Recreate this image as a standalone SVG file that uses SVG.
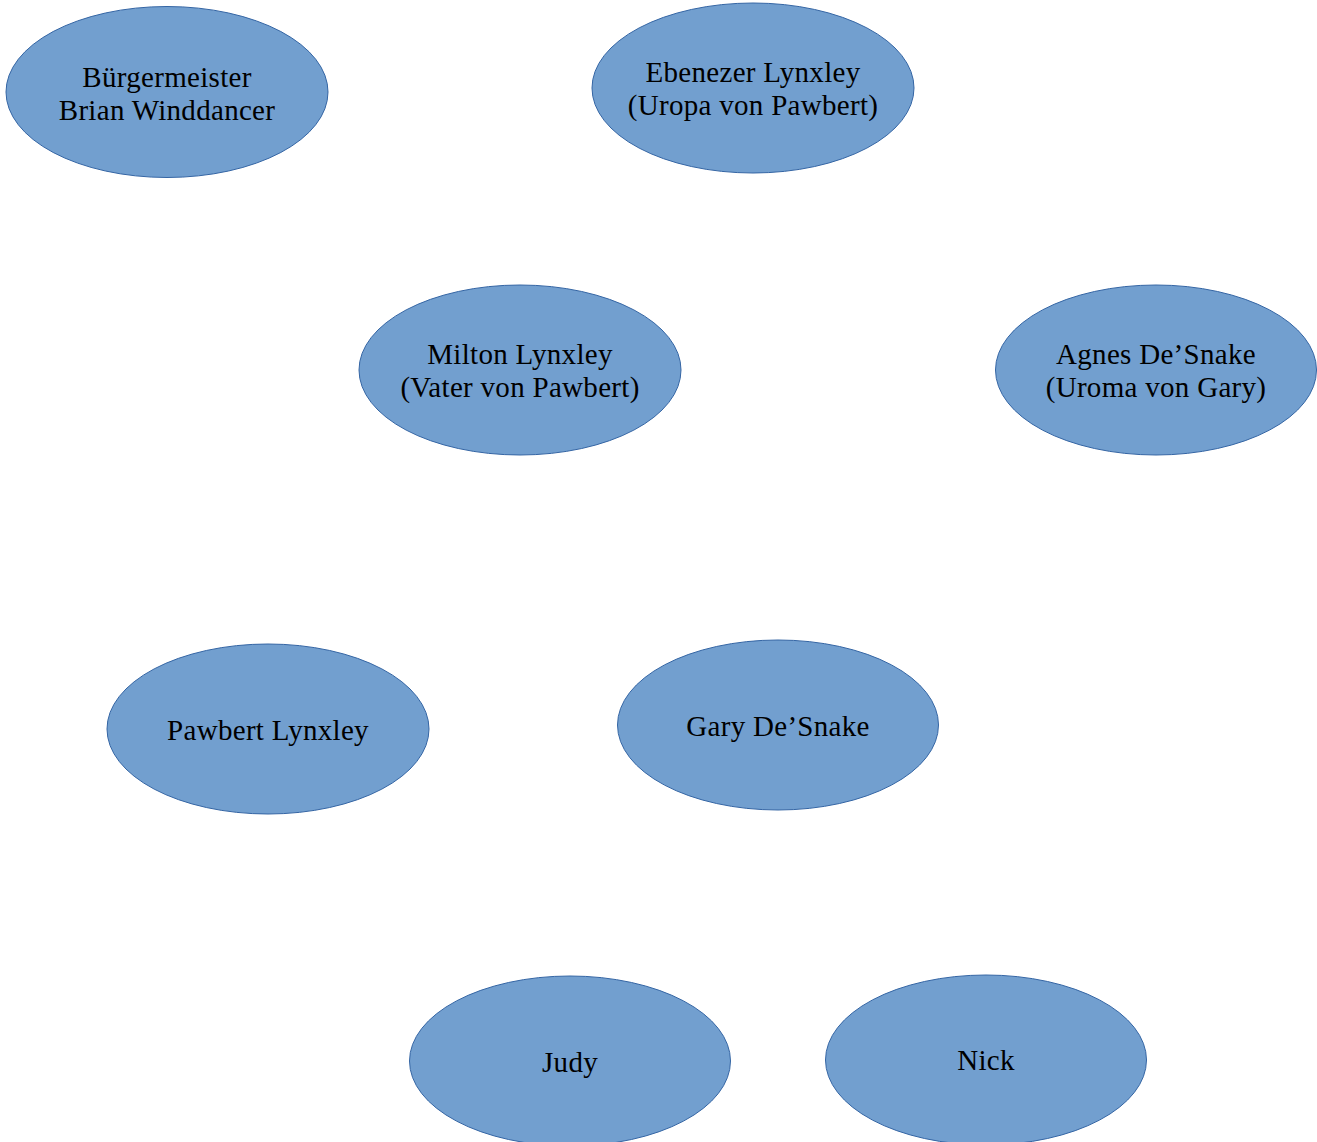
<svg xmlns="http://www.w3.org/2000/svg" width="1317" height="1142" viewBox="0 0 1317 1142">
<style>
.n ellipse{fill:#729fcf;stroke:#3465a4;stroke-width:1}
.n text{font-family:"Liberation Serif","DejaVu Serif",serif;font-size:29px;letter-spacing:0.3px;fill:#000;text-anchor:middle}
</style>
<rect width="1317" height="1142" fill="#fff"/>
<g id="connectors"></g>
<g id="n1" class="n"><ellipse cx="167" cy="92" rx="161" ry="85.5"/><text x="167" y="87">Bürgermeister</text><text x="167" y="120">Brian Winddancer</text></g>
<g id="n2" class="n"><ellipse cx="753" cy="88" rx="161" ry="85"/><text x="753" y="82">Ebenezer Lynxley</text><text x="753" y="115">(Uropa von Pawbert)</text></g>
<g id="n3" class="n"><ellipse cx="520" cy="370" rx="161" ry="85"/><text x="520" y="364">Milton Lynxley</text><text x="520" y="397">(Vater von Pawbert)</text></g>
<g id="n4" class="n"><ellipse cx="1156" cy="370" rx="160.5" ry="85"/><text x="1156" y="364">Agnes De’Snake</text><text x="1156" y="397">(Uroma von Gary)</text></g>
<g id="n5" class="n"><ellipse cx="268" cy="729" rx="161" ry="85"/><text x="268" y="740">Pawbert Lynxley</text></g>
<g id="n6" class="n"><ellipse cx="778" cy="725" rx="160.5" ry="85"/><text x="778" y="736">Gary De’Snake</text></g>
<g id="n7" class="n"><ellipse cx="570" cy="1061" rx="160.5" ry="85"/><text x="570" y="1072">Judy</text></g>
<g id="n8" class="n"><ellipse cx="986" cy="1060" rx="160.5" ry="85"/><text x="986" y="1070">Nick</text></g>
</svg>
